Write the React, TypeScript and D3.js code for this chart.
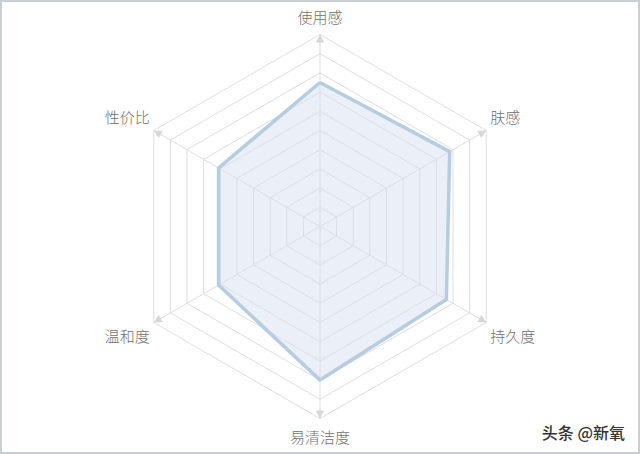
import * as d3 from "d3"

const axes = ["使用感", "肤感", "持久度", "易清洁度", "温和度", "性价比"]
const values = [7.5, 7.8, 7.6, 8.0, 6.1, 6.1]
const levels = [1, 2, 3, 4, 5, 6, 7, 8, 9, 10]
const MAX = 10

const W = 640, H = 454
const cx = 320, cy = 226.5, R = 192
const FONT = "'Noto Sans CJK SC', 'Noto Sans', sans-serif"

export default function App() {
  const r = d3.scaleLinear().domain([0, MAX]).range([0, R])
  const ang = d3.scaleLinear().domain([0, axes.length]).range([-Math.PI / 2, Math.PI * 1.5])
  const pt = (i: number, v: number): [number, number] => [cx + r(v) * Math.cos(ang(i)), cy + r(v) * Math.sin(ang(i))]
  const ring = (v: number) => d3.line()(axes.map((_, i) => pt(i, v)).concat([pt(0, v)])) || ""
  const dataPath = d3.line()(values.map((v, i) => pt(i, v)).concat([pt(0, values[0])])) || ""

  return (
    <svg width={W} height={H} style={{ position: "fixed", left: 0, top: 0, background: "#fff", fontFamily: FONT }}>
      <rect x={1} y={1} width={W - 2} height={H - 2} fill="#fff" stroke="#c9cdd4" strokeWidth={2} />
      <path d={dataPath} fill="#ebf0f8" stroke="none" />
      {levels.map(l => <path key={l} d={ring(l)} fill="none" stroke="#dcdee2" strokeWidth={1} />)}
      {axes.map((_, i) => {
        const [x, y] = pt(i, MAX)
        const a = ang(i) * 180 / Math.PI
        return (
          <g key={i}>
            <line x1={cx} y1={cy} x2={x} y2={y} stroke="#dcdee2" strokeWidth={1} />
            <path d="M0,0 L-8,-4 L-8,4 Z" fill="#d4d6da" transform={`translate(${x},${y}) rotate(${a})`} />
          </g>
        )
      })}
      <path d={dataPath} fill="none" stroke="#b6cce0" strokeWidth={3.5} strokeLinejoin="miter" />
      {axes.map((name, i) => {
        const [x, y] = pt(i, MAX)
        const c = Math.cos(ang(i)), s = Math.sin(ang(i))
        let tx = x, ty = y, anchor: "start" | "middle" | "end" = "middle"
        if (Math.abs(c) < 0.01) ty = s < 0 ? y - 18 : y + 18
        else {
          anchor = c > 0 ? "start" : "end"
          tx = x + (c > 0 ? 4 : -4)
          ty = y + (s < 0 ? -14 : 13)
        }
        return (
          <text key={name} x={tx} y={ty} textAnchor={anchor} dominantBaseline="central" fontSize={15} fontWeight={300} fill="#707070">{name}</text>
        )
      })}
      <text x={625} y={432} textAnchor="end" dominantBaseline="central" fontSize={16} fill="#333" fontWeight={500}>头条 @新氧</text>
    </svg>
  )
}
